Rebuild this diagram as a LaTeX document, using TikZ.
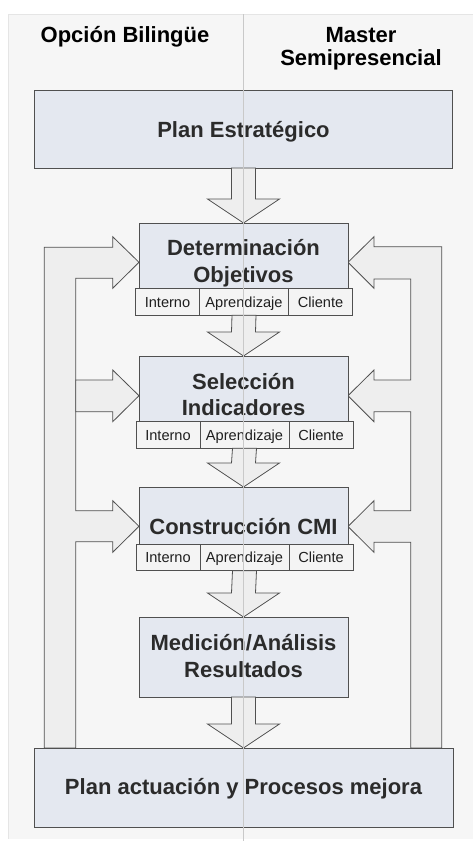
\documentclass[tikz,border=0pt]{standalone}
\usepackage{fontspec}
\setmainfont{Liberation Sans}
\usetikzlibrary{calc}
\definecolor{panel}{HTML}{F6F6F6}
\definecolor{boxfill}{HTML}{E4E8F0}
\definecolor{edge}{HTML}{505050}
\definecolor{barfill}{HTML}{EEEEEE}
\definecolor{subfill}{HTML}{F4F4F4}
\definecolor{txt}{HTML}{2B2B2B}
\definecolor{fold}{HTML}{C9C9C9}
\begin{document}
\begin{tikzpicture}[x=1pt,y=-1pt,
  mainbox/.style={draw=edge,line width=0.8pt,fill=boxfill,inner sep=0,outer sep=0},
  subbox/.style={draw=edge,line width=0.8pt,fill=subfill,inner sep=0,outer sep=0,minimum height=26.5pt},
  bigtxt/.style={inner sep=0,anchor=base,text=txt,font=\fontsize{22}{26}\selectfont\bfseries},
  titletxt/.style={inner sep=0,anchor=base,text=black,font=\fontsize{22}{26}\selectfont\bfseries},
  subtxt/.style={inner sep=0,anchor=base,text=black!88,font=\fontsize{14.6}{17}\selectfont},
  blk/.style={draw=edge,line width=0.8pt,fill=barfill,line join=miter}]
\useasboundingbox (0,0) rectangle (473,841);
\fill[white] (0,0) rectangle (473,841);
\fill[panel] (8,14) rectangle (473,839);
\draw[black!10,line width=0.6pt] (473,14) -- (8,14) -- (8,839);

% titles
\node[titletxt] (t1) at (125,42) {Opción Bilingüe};
\node[titletxt] (t2) at (361,42) {Master};
\node[titletxt] (t3) at (361,65) {Semipresencial};

% side feedback bars (drawn first)
\draw[blk] (44.3,748) -- (44.3,247.3) -- (112.7,247.3) -- (112.7,236.7) -- (139,262.3)
  -- (112.7,288.3) -- (112.7,278.3) -- (75.7,278.3) -- (75.7,510.7) -- (112.7,510.7)
  -- (112.7,500.7) -- (139,526.3) -- (112.7,552.3) -- (112.7,541.7) -- (75.7,541.7)
  -- (75.7,748) -- cycle;
\draw[blk] (75.7,380) -- (112.7,380) -- (112.7,370) -- (139,395.7) -- (112.7,421.7)
  -- (112.7,411.7) -- (75.7,411.7) -- cycle;
\draw[blk] (441.7,748) -- (441.7,246.7) -- (374,246.7) -- (374,236.7) -- (348,262.3)
  -- (374,288.3) -- (374,279) -- (410.7,279) -- (410.7,380) -- (374,380) -- (374,370)
  -- (348,395.7) -- (374,421.7) -- (374,411.7) -- (410.7,411.7) -- (410.7,510.7)
  -- (374,510.7) -- (374,500.7) -- (348,526.5) -- (374,552.3) -- (374,542.3)
  -- (410.7,542.3) -- (410.7,748) -- cycle;

% main boxes
\node[mainbox,minimum width=418pt,minimum height=78pt] (pe) at (243.5,129) {};
\node[mainbox,minimum width=209pt,minimum height=66pt] (det) at (243.5,256) {};
\node[mainbox,minimum width=209pt,minimum height=66pt] (sel) at (243.5,389) {};
\node[mainbox,minimum width=209pt,minimum height=57pt] (con) at (243.5,515.5) {};
\node[mainbox,minimum width=209pt,minimum height=80pt] (med) at (243.5,657) {};
\node[mainbox,minimum width=419pt,minimum height=79pt] (pa) at (243.5,787.5) {};

% down block arrows
\newcommand\blkdown[2]{%
  \draw[blk] ($(#1.south)+(-12,0)$) -- ($(#2.north)+(-12,-24)$) -- ($(#2.north)+(-36,-24)$)
    -- (#2.north) -- ($(#2.north)+(36,-24)$) -- ($(#2.north)+(12,-24)$)
    -- ($(#1.south)+(12,0)$) -- cycle;}

% sub boxes
\node[subbox,minimum width=64pt] (d1) at (167.5,302) {};
\node[subbox,minimum width=89pt] (d2) at (244,302) {};
\node[subbox,minimum width=64pt] (d3) at (320.5,302) {};
\node[subbox,minimum width=64pt] (s1) at (168,435) {};
\node[subbox,minimum width=89pt] (s2) at (244.5,435) {};
\node[subbox,minimum width=64pt] (s3) at (321,435) {};
\node[subbox,minimum width=64pt] (c1) at (168,557.5) {};
\node[subbox,minimum width=89pt] (c2) at (244.5,557.5) {};
\node[subbox,minimum width=64pt] (c3) at (321,557.5) {};

\blkdown{pe}{det}
\blkdown{d2}{sel}
\blkdown{s2}{con}
\blkdown{c2}{med}
\blkdown{med}{pa}

% texts
\node[bigtxt] (pet) at (243.5,137) {Plan Estratégico};
\node[bigtxt] (dett1) at (243.5,255) {Determinación};
\node[bigtxt] (dett2) at (243.5,282) {Objetivos};
\node[bigtxt] (selt1) at (243.5,389) {Selección};
\node[bigtxt] (selt2) at (243.5,415) {Indicadores};
\node[bigtxt] (cont) at (243.5,534) {Construcción CMI};
\node[bigtxt] (medt1) at (243.5,650) {Medición/Análisis};
\node[bigtxt] (medt2) at (243.5,677) {Resultados};
\node[bigtxt] (pat) at (243.5,794) {Plan actuación y Procesos mejora};

\foreach \r/\y in {d/307,s/440,c/562.5}{
  \node[subtxt] (\r1t) at (\r1 |- 0,\y) {Interno};
  \node[subtxt] (\r2t) at (\r2 |- 0,\y) {Aprendizaje};
  \node[subtxt] (\r3t) at (\r3 |- 0,\y) {Cliente};
}

% fold line
\draw[fold,line width=0.8pt] (243,14) -- (243,841);
\end{tikzpicture}
\end{document}
